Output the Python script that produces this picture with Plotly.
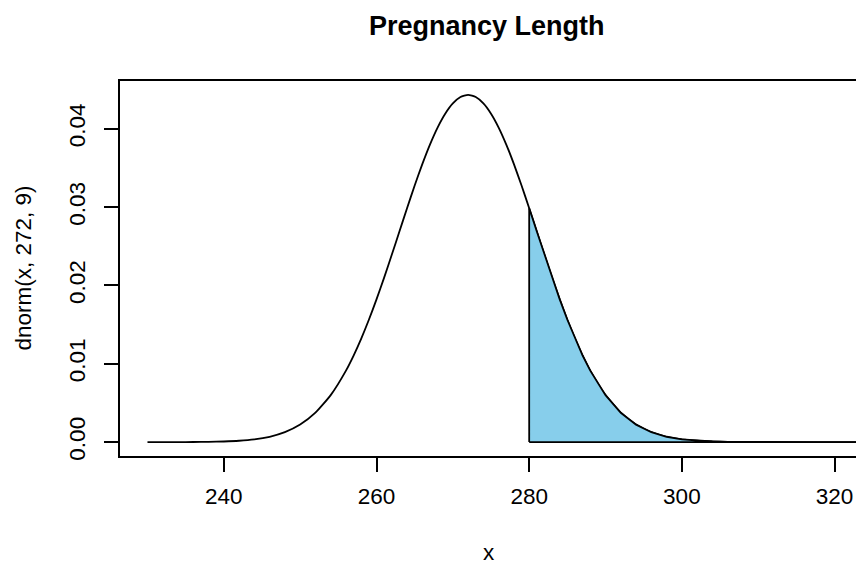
import plotly.graph_objects as go

x_vals = [230, 232, 234, 236, 238, 240, 242, 244, 246, 248, 250, 252, 254, 256,
          257, 258, 259, 260, 261, 262, 263, 264, 265, 266, 267, 268, 269, 270, 271,
          272, 273, 274, 275, 276, 277, 278, 279, 280, 281, 282, 283, 284, 285, 286,
          287, 288, 290, 292, 294, 296, 298, 300, 302, 304, 306, 308, 310, 312, 314,
          316, 318, 320, 322, 324, 326, 328, 330]
y_vals = [0.0000008, 0.0000023, 0.0000060, 0.0000149, 0.0000353, 0.0000797, 0.0001714,
          0.0003507, 0.0006830, 0.0012662, 0.0022342, 0.0037528, 0.0059990, 0.0091280,
          0.0110530, 0.0132200, 0.0156170, 0.0182230, 0.0210030, 0.0239100, 0.0268860,
          0.0298600, 0.0327570, 0.0354940, 0.0379880, 0.0401590, 0.0419320, 0.0432460,
          0.0440540, 0.0443270, 0.0440540, 0.0432460, 0.0419320, 0.0401590, 0.0379880,
          0.0354940, 0.0327570, 0.0298600, 0.0268860, 0.0239100, 0.0210030, 0.0182230,
          0.0156170, 0.0132200, 0.0110530, 0.0091280, 0.0059990, 0.0037528, 0.0022342,
          0.0012662, 0.0006830, 0.0003507, 0.0001714, 0.0000797, 0.0000353, 0.0000149,
          0.0000060, 0.0000023, 0.0000008, 0.0000003, 0.0000001, 0.0, 0.0, 0.0, 0.0,
          0.0, 0.0]
shade_from = 280
x_ticks = [240, 260, 280, 300, 320]
y_ticks = [0.00, 0.01, 0.02, 0.03, 0.04]
y_tick_text = ["0.00", "0.01", "0.02", "0.03", "0.04"]

title_text = "Pregnancy Length"
x_title = "x"
y_title = "dnorm(x, 272, 9)"

FONT = "Liberation Sans, Arial, Helvetica, sans-serif"
LW = 1.8

# shaded polygon
px = [shade_from] + [x for x in x_vals if x >= shade_from] + [x_vals[-1], shade_from]
py = [0.0] + [y for x, y in zip(x_vals, y_vals) if x >= shade_from] + [0.0, 0.0]

fig = go.Figure()
fig.add_trace(go.Scatter(x=x_vals, y=y_vals, mode="lines",
                         line=dict(color="black", width=LW, shape="spline", smoothing=0.5),
                         hoverinfo="skip", showlegend=False))
fig.add_trace(go.Scatter(x=px, y=py, mode="lines", fill="toself", fillcolor="#87CEEB",
                         line=dict(color="black", width=LW),
                         hoverinfo="skip", showlegend=False))

W, H = 856, 566
L, R, T, B = 120, 0, 81, 110
fig.update_layout(
    width=W, height=H,
    margin=dict(l=L, r=R, t=T, b=B, pad=0),
    paper_bgcolor="white", plot_bgcolor="white",
    font=dict(family=FONT, size=22.5, color="black"),
    showlegend=False,
    xaxis=dict(range=[226.4, 322.81], tickvals=x_ticks, ticks="outside", ticklen=14,
               tickwidth=LW, tickcolor="black", showline=True, linecolor="black",
               linewidth=LW, mirror=True, showgrid=False, zeroline=False,
               ticklabelstandoff=5,
               tickfont=dict(family=FONT, size=22.5, color="black")),
    yaxis=dict(range=[-0.001773, 0.046101], tickvals=y_ticks, ticktext=y_tick_text,
               ticks="outside", ticklen=14, tickwidth=LW, tickcolor="black",
               showline=True, linecolor="black", linewidth=LW, mirror=False,
               showgrid=False, zeroline=False, tickangle=-90, ticklabelstandoff=10,
               tickfont=dict(family=FONT, size=22.5, color="black")),
    annotations=[
        dict(text="<b>" + title_text + "</b>", xref="paper", yref="paper",
             x=(486.5 - L) / (W - L - R), y=1 + (T - 26) / (H - T - B),
             xanchor="center", yanchor="middle", showarrow=False,
             font=dict(family=FONT, size=27, color="black")),
        dict(text=x_title, xref="paper", yref="paper",
             x=(489 - L) / (W - L - R), y=-(552 - (H - B)) / (H - T - B),
             xanchor="center", yanchor="middle", showarrow=False,
             font=dict(family=FONT, size=22.5, color="black")),
        dict(text=y_title, xref="paper", yref="paper", textangle=-90,
             x=-(L - 23) / (W - L - R), y=0.5,
             xanchor="center", yanchor="middle", showarrow=False,
             font=dict(family=FONT, size=22.5, color="black")),
    ],
)
fig.write_html("out.html")
